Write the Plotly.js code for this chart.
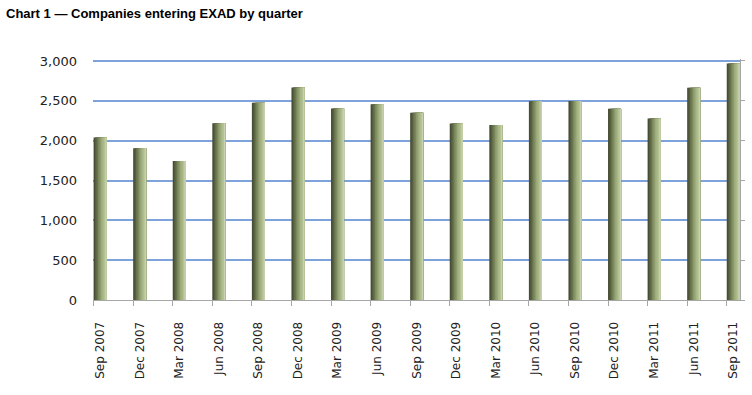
<!DOCTYPE html>
<html>
<head>
<meta charset="utf-8">
<script src="https://cdn.plot.ly/plotly-3.0.1.min.js"></script>
<style>html,body{margin:0;padding:0;background:#fff;}#chart{width:752px;height:395px;}</style>
</head>
<body>
<div id="chart"></div>
<script>
const quarters = ["Sep 2007","Dec 2007","Mar 2008","Jun 2008","Sep 2008","Dec 2008","Mar 2009","Jun 2009","Sep 2009","Dec 2009","Mar 2010","Jun 2010","Sep 2010","Dec 2010","Mar 2011","Jun 2011","Sep 2011"];
const companies = [2040, 1905, 1745, 2220, 2475, 2667, 2403, 2458, 2350, 2215, 2197, 2495, 2498, 2400, 2277, 2663, 2967];
const yTicks = [0, 500, 1000, 1500, 2000, 2500, 3000];
const yTickText = ["0", "500", "1,000", "1,500", "2,000", "2,500", "3,000"];

// cylinder-like shading built from overlaid, progressively narrower copies of the same bars
const shades = ["#474e33", "#566040", "#68734d", "#7a875c", "#8c9a6b", "#9cab7a", "#a8b786", "#b4c194", "#c9d2b0"];
const barWidth = 0.33;
const stripW = barWidth / shades.length;

const traces = shades.map((c, k) => ({
  type: "bar",
  x: quarters,
  y: companies,
  width: barWidth - k * stripW,
  offset: -barWidth / 2 + k * stripW,
  marker: {color: c, line: {width: 0}},
  hoverinfo: k === 0 ? "x+y" : "skip",
  showlegend: false
}));

// invisible helper trace so the secondary axes (tick marks) are drawn
traces.push({
  type: "scatter",
  mode: "none",
  x: quarters,
  y: companies,
  xaxis: "x2",
  yaxis: "y2",
  hoverinfo: "skip",
  showlegend: false
});

const tickFont = {family: "DejaVu Sans, Verdana, sans-serif", size: 13, color: "#222"};

const layout = {
  width: 752,
  height: 395,
  paper_bgcolor: "#fff",
  plot_bgcolor: "#fff",
  barmode: "overlay",
  margin: {l: 93, r: 12, t: 59, b: 95},
  title: {
    text: "<b>Chart 1 \u2014 Companies entering EXAD by quarter</b>",
    font: {family: "Liberation Sans, Arial, sans-serif", size: 13, color: "#000"},
    x: 6 / 752, xanchor: "left", xref: "container",
    y: 1 - 13 / 395, yanchor: "middle", yref: "container"
  },
  xaxis: {
    type: "category",
    range: [-0.18, 16.17],
    showgrid: false,
    showline: true,
    linecolor: "#a6a6a6",
    linewidth: 1,
    ticks: "",
    tickangle: -90,
    tickfont: {family: "DejaVu Sans, Verdana, sans-serif", size: 12, color: "#222"},
    ticklabelstandoff: 16,
    fixedrange: true
  },
  xaxis2: {
    type: "category",
    overlaying: "x",
    side: "bottom",
    anchor: "y",
    range: [-0.015, 16.335],
    showgrid: false,
    showline: false,
    ticks: "outside",
    ticklen: 5,
    tickcolor: "#a6a6a6",
    showticklabels: false,
    fixedrange: true
  },
  yaxis: {
    range: [0, 3025],
    tickvals: yTicks,
    ticktext: yTickText,
    showgrid: true,
    gridcolor: "#7ea2da",
    gridwidth: 2,
    zeroline: false,
    showline: false,
    ticks: "",
    tickfont: tickFont,
    ticklabelstandoff: 15,
    fixedrange: true
  },
  yaxis2: {
    overlaying: "y",
    side: "right",
    anchor: "x",
    range: [0, 3025],
    tickvals: yTicks,
    showgrid: false,
    zeroline: false,
    showline: true,
    linecolor: "#a6a6a6",
    linewidth: 1,
    ticks: "outside",
    ticklen: 4,
    tickcolor: "#a6a6a6",
    showticklabels: false,
    fixedrange: true
  }
};

Plotly.newPlot("chart", traces, layout, {displayModeBar: false, staticPlot: true});
</script>
</body>
</html>
